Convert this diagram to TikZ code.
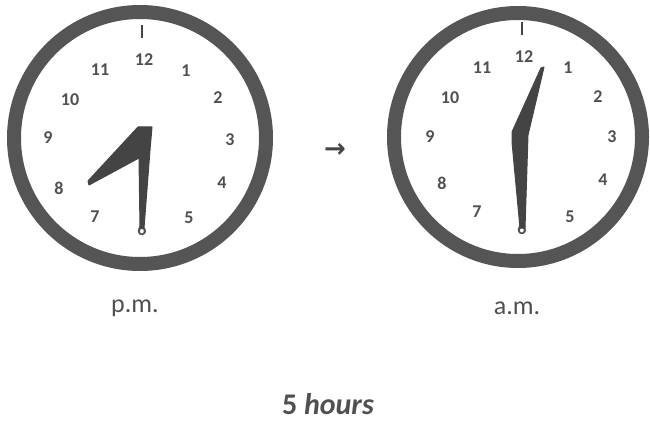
\documentclass[tikz,border=0pt]{standalone}
\usepackage{fontspec}
\setmainfont{Carlito}
\newfontfamily\arrowfont{DejaVu Sans}
\definecolor{ring}{HTML}{555555}
\definecolor{txt}{HTML}{505050}
\definecolor{hand}{HTML}{444444}
\begin{document}
\begin{tikzpicture}[x=1pt,y=-1pt,
  ringstyle/.style={draw=ring,line width=14pt,fill=white},
  num/.style={text=txt,font=\fontsize{18}{18}\selectfont\bfseries,inner sep=0pt},
  lbl/.style={text=txt,font=\fontsize{26}{26}\selectfont,inner sep=0pt},
  handstyle/.style={fill=hand,draw=hand,line width=1pt,line join=round},
  tickstyle/.style={draw=hand,line width=2pt}]
\useasboundingbox (0,0) rectangle (650,425);
% left clock
\node[circle,ringstyle,minimum size=252pt] (lc) at (140,138) {};
\coordinate (lt1) at (142,25); \coordinate (lt2) at (142,38);
\draw[tickstyle] (lt1) -- (lt2);
\node[num] (l12) at (144,60) {12};
\node[num] (l1) at (186,71) {1};
\node[num] (l2) at (218,98) {2};
\node[num] (l3) at (230,140) {3};
\node[num] (l4) at (222,183) {4};
\node[num] (l5) at (189,218) {5};
\node[num] (l6) at (142,229) {6};
\node[num] (l7) at (95,217) {7};
\node[num] (l8) at (59,188) {8};
\node[num] (l9) at (48,138) {9};
\node[num] (l10) at (70,100) {10};
\node[num] (l11) at (100,70) {11};
\draw[handstyle] (138,127) -- (152,127) -- (150,150) -- (144,228) -- (140,228) -- (139,158) -- (89,185) -- (88,181) -- cycle;
% arrow
\node[text=hand,font=\arrowfont\fontsize{26}{26}\selectfont\bfseries,inner sep=0pt] (arr) at (335,150) {→};
% right clock
\node[circle,ringstyle,minimum size=248pt] (rc) at (518,137) {};
\coordinate (rt1) at (522,22); \coordinate (rt2) at (522,35);
\draw[tickstyle] (rt1) -- (rt2);
\node[num] (r12) at (524,57) {12};
\node[num] (r1) at (568,68) {1};
\node[num] (r2) at (598,97) {2};
\node[num] (r3) at (612,137) {3};
\node[num] (r4) at (603,180) {4};
\node[num] (r5) at (570,217) {5};
\node[num] (r6) at (522,228) {6};
\node[num] (r7) at (477,212) {7};
\node[num] (r8) at (442,183) {8};
\node[num] (r9) at (430,137) {9};
\node[num] (r10) at (450,98) {10};
\node[num] (r11) at (482,68) {11};
\draw[handstyle] (512,132) -- (541,68) -- (544,67) -- (528,135) -- (525,228) -- (520,228) -- (512,142) -- cycle;
% labels
\node[lbl] (pm) at (135,308) {p.m.};
\node[lbl] (am) at (517,308) {a.m.};
\node[text=txt,font=\fontsize{30}{30}\selectfont\bfseries,inner sep=0pt] (hrs) at (328,404) {5 \textit{hours}};
\end{tikzpicture}
\end{document}
